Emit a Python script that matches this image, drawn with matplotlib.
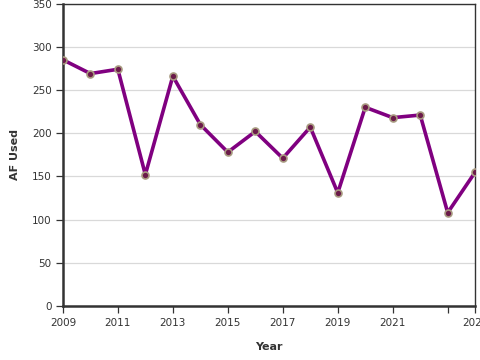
import matplotlib
matplotlib.use("Agg")
import matplotlib.pyplot as plt

years = list(range(2009, 2025))
af_used = [285, 269, 274, 152, 266, 210, 178, 202, 171, 207, 131, 230, 218, 221, 108, 155]

xticks = [2009, 2011, 2013, 2015, 2017, 2019, 2021, 2023, 2024]
xlabels = ["2009", "2011", "2013", "2015", "2017", "2019", "2021", "", "2024"]
yticks = [0, 50, 100, 150, 200, 250, 300, 350]

fig = plt.figure(figsize=(4.8, 3.6), dpi=100)
ax = fig.add_axes([0.131, 0.15, 0.859, 0.84])

ax.plot(years, af_used, color="#800080", lw=2.6, zorder=3,
        marker="o", ms=5, mfc="#6b1a4a", mec="#a89a80", mew=1.2)

ax.set_xlim(2009, 2024)
ax.set_ylim(0, 350)
ax.set_xticks(xticks)
ax.set_xticklabels(xlabels)
ax.set_yticks(yticks)
ax.grid(axis="y", color="#d9d9d9", lw=0.9, zorder=0)
ax.set_axisbelow(True)

for side in ["left", "bottom"]:
    ax.spines[side].set_linewidth(1.8)
    ax.spines[side].set_color("#333333")
for side in ["right", "top"]:
    ax.spines[side].set_linewidth(1.0)
    ax.spines[side].set_color("#333333")

ax.tick_params(axis="both", direction="out", length=5, width=0.9,
               color="#333333", labelsize=7.5, labelcolor="#333333", pad=3)
ax.tick_params(axis="x", pad=4)

ax.set_xlabel("Year", fontsize=8, fontweight="bold", color="#333333", labelpad=10)
ax.set_ylabel("AF Used", fontsize=8, fontweight="bold", color="#333333", labelpad=9)

fig.savefig("out.png", dpi=100)
